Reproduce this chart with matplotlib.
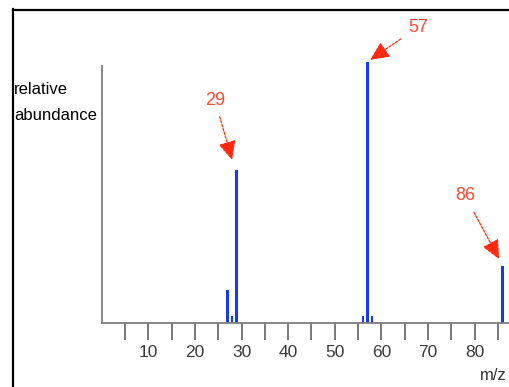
import matplotlib.pyplot as plt
from matplotlib.lines import Line2D

plt.rcParams['font.family'] = ['Liberation Sans', 'DejaVu Sans']

# mass spectrum peaks (m/z, relative abundance %)
mz = [27, 28, 29, 56, 57, 58, 86]
abundance = [12.7, 2.7, 58.7, 2.7, 100, 2.7, 21.7]
widths = [0.5, 0.45, 0.6, 0.45, 0.6, 0.45, 0.6]

ticks = list(range(5, 90, 5))
tick_labels = [str(t) if t % 10 == 0 and t < 90 else '' for t in ticks]

# labelled peaks: (text, tip x, tip y, text x, text y)
labels = [('29', 28.0, 62.4, 24.3, 85.4),
          ('57', 57.6, 100.8, 67.9, 113.4),
          ('86', 85.3, 24.4, 78.0, 48.6)]

W, H = 509, 387
fig = plt.figure(figsize=(W / 100, H / 100), dpi=100)
ax = fig.add_axes([101.7 / W, (H - 322.7) / H, (W - 101.7) / W, 260.7 / H])

blue = '#1438ff'
ax.bar(mz, abundance, width=widths, color=blue, align='center')

ax.set_xlim(0, (W - 101.7) / 4.66)
ax.set_ylim(0, 100)

for s in ['top', 'right']:
    ax.spines[s].set_visible(False)
for s in ['left', 'bottom']:
    ax.spines[s].set_color('#7f7f7f')
    ax.spines[s].set_linewidth(1.3)
ax.spines['left'].set_bounds(0, 98.5)

ax.set_yticks([])
ax.set_xticks(ticks)
ax.set_xticklabels(tick_labels, fontsize=12.5, color='#3a3a3a')
ax.tick_params(axis='x', direction='out', length=12.2, width=1.1,
               color='#555555', pad=3.5)

red = '#ff2a10'
for txt, tx, ty, lx, ly in labels:
    ax.annotate(txt, xy=(tx, ty), xytext=(lx, ly), textcoords='data',
                ha='center', va='center', color='#ff4a3a', fontsize=13,
                annotation_clip=False,
                arrowprops=dict(arrowstyle='-|>,head_length=0.9,head_width=0.42',
                                color=red, lw=0.9, linestyle=(0, (2, 1.2)),
                                shrinkA=4, shrinkB=0))

fig.text(14 / W, 1 - 90 / H, 'relative', fontsize=12, va='center', ha='left')
fig.text(14 / W, 1 - 115 / H, 'abundance', fontsize=12, va='center', ha='left')
fig.text(507 / W, 1 - 375 / H, 'm/z', fontsize=12, va='center', ha='right',
         color='#333333')

# outer frame (only left and top edges fall inside the picture)
fx, fy = 13.3 / W, 1 - 10 / H
fig.add_artist(Line2D([fx, fx], [0, fy + 0.002], color='black', lw=1.6,
                      transform=fig.transFigure))
fig.add_artist(Line2D([fx, 1], [fy, fy], color='black', lw=1.6,
                      transform=fig.transFigure))

fig.savefig('out.png', dpi=100)
